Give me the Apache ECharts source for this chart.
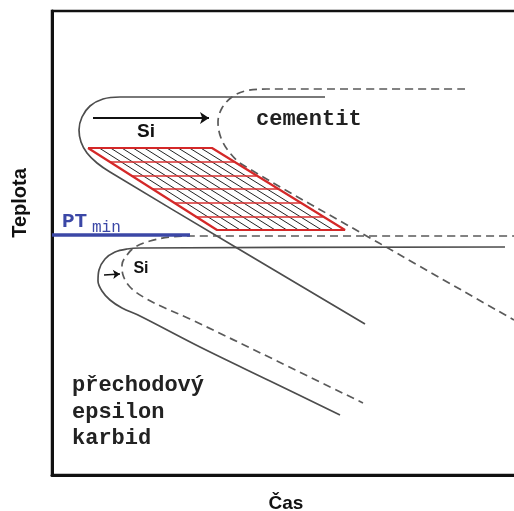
<!DOCTYPE html>
<html>
<head>
<meta charset="utf-8">
<script src="https://cdn.jsdelivr.net/npm/echarts@6/dist/echarts.min.js"></script>
<style>html,body{margin:0;padding:0;background:#fff}#c{width:514px;height:511px}</style>
</head>
<body>
<div id="c"></div>
<script>
// schematic coordinates: x = time (arbitrary units), y = temperature (arbitrary units)
const upperSolid = [[273,378],[68,378],[51,376],[38,369],[30,358],[27,345],[29,333],[35,322],[45,312],[58,303],[185,227],[313,151]];
const upperDashed = [[413,386],[215,386],[193,384],[180,378],[170,367],[166,353],[169,337],[178,322],[191,310],[327,232],[462,155]];
const lowerDashed = [[468,239],[138,239],[118,238],[98,234],[83,228],[75,220],[70,210],[71,200],[78,188],[93,177],[113,167],[138,156],[225,114],[311,72]];
const lowerSolid = [[453,228],[88,227],[75,226],[63,223],[53,216],[47,205],[46,194],[50,184],[58,175],[70,167],[88,159],[148,128],[218,94],[288,60]];
const ptMin = [[0,240],[138,240]];
// processing window (parallelogram): top-left, top-right, bottom-right, bottom-left
const boxCorners = [[36,327],[160,327],[293,245],[165,245]];
const boxRows = 6;      // horizontal bands
const boxCols = 11;     // diagonal bands
const arrowUpper = [[41,357],[157,357]];
const arrowLower = [[52,200],[68,201]];

function lerp(a,b,t){return [a[0]+(b[0]-a[0])*t, a[1]+(b[1]-a[1])*t];}
const [TL,TR,BR,BL] = boxCorners;
const rowLines = [];
for(let i=1;i<boxRows;i++){const t=i/boxRows; rowLines.push({coords:[lerp(TL,BL,t),lerp(TR,BR,t)]});}
const hatchLines = [];
for(let j=1;j<boxCols;j++){const t=j/boxCols; hatchLines.push({coords:[lerp(TL,TR,t),lerp(BL,BR,t)]});}
const outline = [TL,TR,BR,BL,TL];

const chart = echarts.init(document.getElementById('c'), null, {renderer:'canvas'});
const solidStyle = {color:'#4d4d4d', width:1.7};
const dashStyle = {color:'#5a5a5a', width:1.7, type:[8,5]};
chart.setOption({
  animation:false,
  backgroundColor:'#fff',
  grid:{left:52, top:11, right:-6, bottom:36, outerBoundsMode:'none', containLabel:false, show:true, borderColor:'#111', borderWidth:2.5, backgroundColor:'transparent'},
  xAxis:{type:'value', min:0, max:468, axisLine:{show:true, lineStyle:{color:'#111', width:3}}, axisTick:{show:false}, axisLabel:{show:false}, splitLine:{show:false},
    name:'Čas', nameLocation:'middle', nameGap:19, nameTextStyle:{fontFamily:'Liberation Sans', fontWeight:'bold', fontSize:19, color:'#111', padding:[0,0,0,0]}},
  yAxis:{type:'value', min:0, max:464, axisLine:{show:true, lineStyle:{color:'#111', width:3}}, axisTick:{show:false}, axisLabel:{show:false}, splitLine:{show:false}},
  series:[
    {type:'line', data:upperSolid, smooth:0.35, showSymbol:false, lineStyle:solidStyle, z:3},
    {type:'line', data:upperDashed, smooth:0.35, showSymbol:false, lineStyle:dashStyle, z:3},
    {type:'line', data:lowerSolid, smooth:0.35, showSymbol:false, lineStyle:solidStyle, z:3},
    {type:'line', data:lowerDashed, smooth:0.35, showSymbol:false, lineStyle:dashStyle, z:3},
    {type:'line', data:ptMin, showSymbol:false, lineStyle:{color:'#3b47a6', width:3.5}, z:4},
    {type:'lines', coordinateSystem:'cartesian2d', data:hatchLines, lineStyle:{color:'#222', width:1, opacity:1}, z:5},
    {type:'lines', coordinateSystem:'cartesian2d', data:rowLines, lineStyle:{color:'#d83030', width:1.5, opacity:1}, z:6},
    {type:'line', data:outline, showSymbol:false, lineStyle:{color:'#d42828', width:2.2}, z:7},
    {type:'lines', coordinateSystem:'cartesian2d', symbol:['none','arrow'], symbolSize:9,
      data:[{coords:arrowUpper}], lineStyle:{color:'#111', width:2, opacity:1}, z:8},
    {type:'lines', coordinateSystem:'cartesian2d', symbol:['none','arrow'], symbolSize:7,
      data:[{coords:arrowLower}], lineStyle:{color:'#111', width:1.6, opacity:1}, z:8}
  ],
  graphic:[
    {type:'text', x:20, y:203, rotation:Math.PI/2, style:{text:'Teplota', fontFamily:'Liberation Sans', fontWeight:'bold', fontSize:20, fill:'#111', align:'center', verticalAlign:'middle'}},
    {type:'text', x:256, y:119, style:{text:'cementit', fontFamily:'Liberation Mono', fontWeight:'bold', fontSize:22, fill:'#222', align:'left', verticalAlign:'middle'}},
    {type:'text', x:146, y:132, style:{text:'Si', fontFamily:'Liberation Sans', fontWeight:'bold', fontSize:19, fill:'#111', align:'center', verticalAlign:'middle'}},
    {type:'text', x:141, y:269, style:{text:'Si', fontFamily:'Liberation Sans', fontWeight:'bold', fontSize:16, fill:'#111', align:'center', verticalAlign:'middle'}},
    {type:'text', x:62, y:222, style:{text:'PT', fontFamily:'Liberation Mono', fontWeight:'bold', fontSize:21, fill:'#3b47a6', align:'left', verticalAlign:'middle'}},
    {type:'text', x:92, y:228, style:{text:'min', fontFamily:'Liberation Mono', fontWeight:'normal', fontSize:16, fill:'#3b47a6', align:'left', verticalAlign:'middle'}},
    {type:'text', x:72, y:385, style:{text:'přechodový', fontFamily:'Liberation Mono', fontWeight:'bold', fontSize:22, fill:'#222', align:'left', verticalAlign:'middle'}},
    {type:'text', x:72, y:412, style:{text:'epsilon', fontFamily:'Liberation Mono', fontWeight:'bold', fontSize:22, fill:'#222', align:'left', verticalAlign:'middle'}},
    {type:'text', x:72, y:438, style:{text:'karbid', fontFamily:'Liberation Mono', fontWeight:'bold', fontSize:22, fill:'#222', align:'left', verticalAlign:'middle'}}
  ]
});
</script>
</body>
</html>
